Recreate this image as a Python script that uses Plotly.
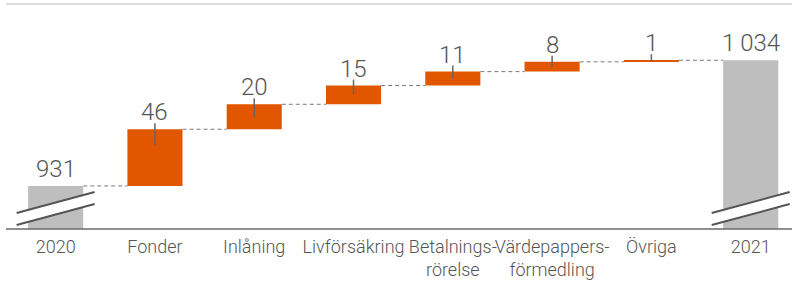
import plotly.graph_objects as go

# ---- data ----
categories = ["2020", "Fonder", "Inlåning", "Livförsäkring",
              "Betalnings-<br>rörelse", "Värdepappers-<br>förmedling", "Övriga", "2021"]
start_value = 931.2
deltas = [46.4, 20.4, 15.3, 11.4, 8.0, 1.3]
end_value = 1034.0

# ---- styling / layout constants ----
Y_MIN, Y_MAX = 896, 1080
W, H = 792, 283
M_L, M_R, M_T, M_B = 6, 0, 4, 54
BAR_W = 0.555
ORANGE = "#E25600"
GREY_BAR = "#BEBEBE"
TXT = "#555555"
FONT = "Roboto"

plot_h = H - M_T - M_B
ppu = plot_h / (Y_MAX - Y_MIN)  # pixels per unit

n = len(categories)
xs = list(range(n))

# cumulative levels
levels = [start_value]
for d in deltas:
    levels.append(levels[-1] + d)
bases = levels[:-1]
delta_x = xs[1:-1]

fig = go.Figure()

fig.add_trace(go.Bar(x=[xs[0], xs[-1]], y=[start_value, end_value], width=BAR_W,
                     marker=dict(color=GREY_BAR, line=dict(width=0)),
                     hoverinfo="skip", showlegend=False))
fig.add_trace(go.Bar(x=delta_x, y=deltas, base=bases, width=BAR_W,
                     marker=dict(color=ORANGE, line=dict(width=0)),
                     hoverinfo="skip", showlegend=False))

# dashed connectors
cx, cy = [], []
for i in range(n - 1):
    lvl = levels[i] if i < len(levels) else end_value
    cx += [xs[i] + BAR_W / 2, xs[i + 1] - BAR_W / 2, None]
    cy += [lvl, lvl, None]
fig.add_trace(go.Scatter(x=cx, y=cy, mode="lines",
                         line=dict(color="#7a7a7a", width=1, dash="4px,3px"),
                         hoverinfo="skip", showlegend=False))

# leader ticks on delta bars
lx, ly = [], []
for x, b, d in zip(delta_x, bases, deltas):
    top = b + d
    down_px = min(16, 0.5 * d * ppu)
    lx += [x, x, None]
    ly += [top + 6 / ppu, top - down_px / ppu, None]
fig.add_trace(go.Scatter(x=lx, y=ly, mode="lines",
                         line=dict(color="#666666", width=1.5),
                         hoverinfo="skip", showlegend=False))

# value labels
label_vals = [start_value] + deltas + [end_value]
label_tops = levels + [end_value]
annotations = []
for x, v, t in zip(xs, label_vals, label_tops):
    txt = f"{round(v):,}".replace(",", "\u2009")
    annotations.append(dict(x=x, y=t, xref="x", yref="y", text=txt, showarrow=False,
                            yanchor="bottom", yshift=2, borderpad=0,
                            font=dict(family=FONT, size=24, color=TXT, weight=300)))

shapes = []
shapes.append(dict(type="line", xref="paper", yref="paper", x0=0, x1=1, y0=1, y1=1,
                   line=dict(color="#DCDCDC", width=2), layer="below"))
shapes.append(dict(type="line", xref="paper", yref="paper", x0=0, x1=1, y0=0, y1=0,
                   line=dict(color="#6b6b6b", width=1.5), layer="above"))
for x in [xs[0], xs[-1]]:
    shapes.append(dict(type="path", xref="x", yref="y", xsizemode="pixel", ysizemode="pixel",
                       xanchor=x, yanchor=Y_MIN,
                       path="M-39,4 L39,25 L39,37 L-39,16 Z",
                       fillcolor="white", line=dict(width=0), layer="above"))
    for off in (4, 16):
        shapes.append(dict(type="path", xref="x", yref="y", xsizemode="pixel", ysizemode="pixel",
                           xanchor=x, yanchor=Y_MIN,
                           path=f"M-39,{off} L39,{off + 21}",
                           line=dict(color="#555555", width=2), layer="above"))

fig.update_layout(
    width=W, height=H,
    margin=dict(l=M_L, r=M_R, t=M_T, b=M_B, autoexpand=False),
    plot_bgcolor="white", paper_bgcolor="white",
    font=dict(family=FONT, color=TXT, size=18, weight=300),
    barmode="overlay",
    shapes=shapes, annotations=annotations,
    xaxis=dict(range=[-0.5, 7.416], tickmode="array", tickvals=xs, ticktext=categories,
               tickangle=0, automargin=False, ticklabelstandoff=5,
               showgrid=False, zeroline=False, showline=False, ticks="",
               tickfont=dict(family=FONT, size=18, color=TXT, weight=300), fixedrange=True),
    yaxis=dict(range=[Y_MIN, Y_MAX], showgrid=False, zeroline=False, showline=False,
               showticklabels=False, automargin=False, fixedrange=True),
)

fig.write_html("out.html", config={"displayModeBar": False},
               post_script="document.body.style.margin='0';")
